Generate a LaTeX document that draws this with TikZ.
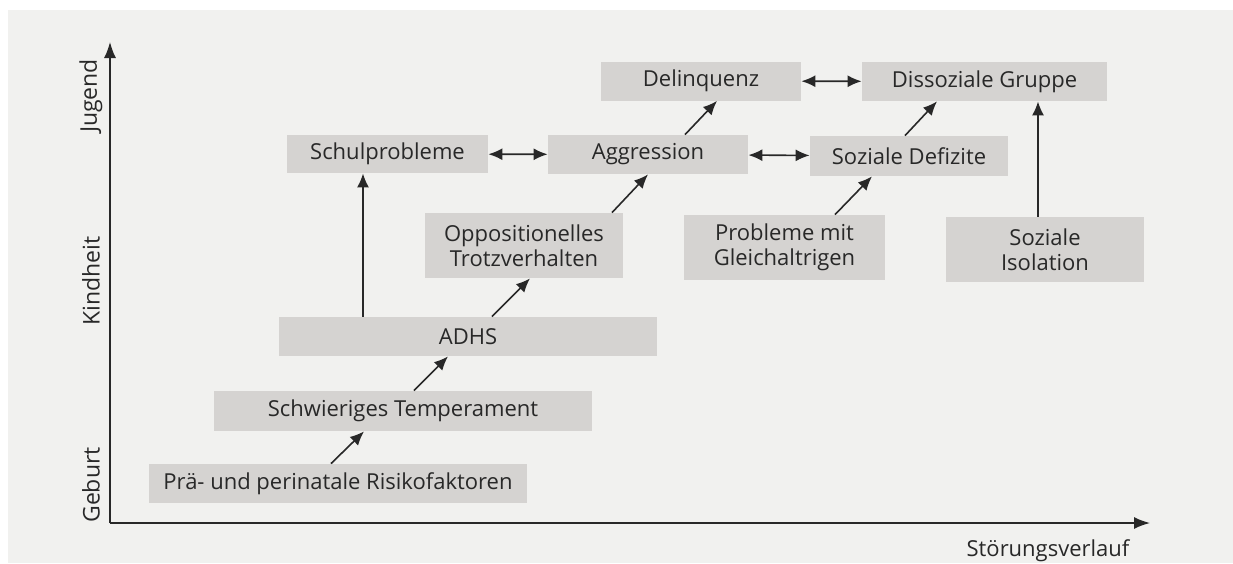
\documentclass[tikz,border=0pt]{standalone}
\usepackage{fontspec}
\setmainfont{Open Sans}
\usepackage{tikz}
\usetikzlibrary{arrows.meta,positioning,calc}
\usepackage{xcolor}
\definecolor{papier}{RGB}{241,241,239}
\definecolor{kasten}{RGB}{213,211,209}
\definecolor{tinte}{RGB}{40,40,40}

\tikzset{
    box/.style={fill=kasten, text=tinte, inner sep=0pt, align=center,
        font=\fontsize{11}{12.5}\selectfont},
    pfeil/.style={draw=tinte, line width=0.8pt, -{Latex[length=7pt,width=6pt]}},
    doppel/.style={draw=tinte, line width=0.8pt, {Latex[length=7pt,width=6pt]}-{Latex[length=7pt,width=6pt]}},
    achse/.style={draw=tinte, line width=0.75pt, -{Latex[length=8pt,width=6pt]}},
    zeit/.style={text=tinte, rotate=90, font=\fontsize{11.5}{13}\selectfont}
}

\begin{document}
\begin{tikzpicture}[x=0.5pt, y=-0.5pt]
        % Hintergrund (Papier)
        \fill[white] (0,0) rectangle (1233,563);
        \fill[papier] (8,10) rectangle (1233,563);
        \useasboundingbox (0,0) rectangle (1233,563);
        % Achsen
        \coordinate (ursprung) at (110,523);
        \coordinate (oben) at (110,42);
        \coordinate (rechts) at (1150,523);
        \draw[achse] (ursprung) -- (oben);
        \draw[achse] (ursprung) -- (rechts);
        % Achsenbeschriftung
        \node[zeit] (jugend) at (91,96) {Jugend};
        \node[zeit] (kindheit) at (91,281) {Kindheit};
        \node[zeit] (geburt) at (91,485) {Geburt};
        \node[text=tinte, font=\fontsize{11}{13}\selectfont] (verlauf) at (1048,551) {Störungsverlauf};
        % Geburt / frühe Kindheit
        \node[box, minimum width=189pt, minimum height=19.5pt] (risiko) at (338,483.5) {Prä- und perinatale Risikofaktoren};
        \node[box, minimum width=189pt, minimum height=20pt] (temperament) at (403,411) {Schwieriges Temperament};
        \node[box, minimum width=189pt, minimum height=19.5pt] (adhs) at (468,336.5) {ADHS};
        % Kindheit
        \node[box, minimum width=99pt, minimum height=32.5pt] (trotz) at (524,245.5) {Oppositionelles\\Trotzverhalten};
        \node[box, minimum width=100.5pt, minimum height=32.5pt] (gleich) at (784.5,247.5) {Probleme mit\\Gleichaltrigen};
        \node[box, minimum width=99pt, minimum height=32.5pt] (isolation) at (1045,249.5) {Soziale\\Isolation};
        % Jugend
        \node[box, minimum width=100.5pt, minimum height=19pt] (schule) at (387.5,154) {Schulprobleme};
        \node[box, minimum width=100pt, minimum height=19.5pt] (aggression) at (648,154.5) {Aggression};
        \node[box, minimum width=99pt, minimum height=20pt] (defizite) at (909,156) {Soziale Defizite};
        \node[box, minimum width=100pt, minimum height=19.5pt] (delinquenz) at (701,81) {Delinquenz};
        \node[box, minimum width=122.5pt, minimum height=19.5pt] (gruppe) at (984.5,81.5) {Dissoziale Gruppe};
        % Pfeile nach oben
        \draw[pfeil] (risiko.north -| 331,0) -- (temperament.south -| 364,0);
        \draw[pfeil] (temperament.north -| 414,0) -- (adhs.south -| 448,0);
        \draw[pfeil] (adhs.north -| 492,0) -- (trotz.south -| 530,0);
        \draw[pfeil] (adhs.north -| 363,0) -- (schule.south -| 363,0);
        \draw[pfeil] (trotz.north -| 612,0) -- (aggression.south -| 648,0);
        \draw[pfeil] (gleich.north -| 835,0) -- (defizite.south -| 872,0);
        \draw[pfeil] (aggression.north -| 685,0) -- (delinquenz.south -| 717,0);
        \draw[pfeil] (defizite.north -| 905,0) -- (gruppe.south -| 937,0);
        \draw[pfeil] (isolation.north -| 1038,0) -- (gruppe.south -| 1038,0);
        % Wechselwirkungen
        \draw[doppel] (schule) -- (aggression);
        \draw[doppel] (aggression) -- (defizite);
        \draw[doppel] (delinquenz) -- (gruppe);
    \end{tikzpicture}
\end{document}
